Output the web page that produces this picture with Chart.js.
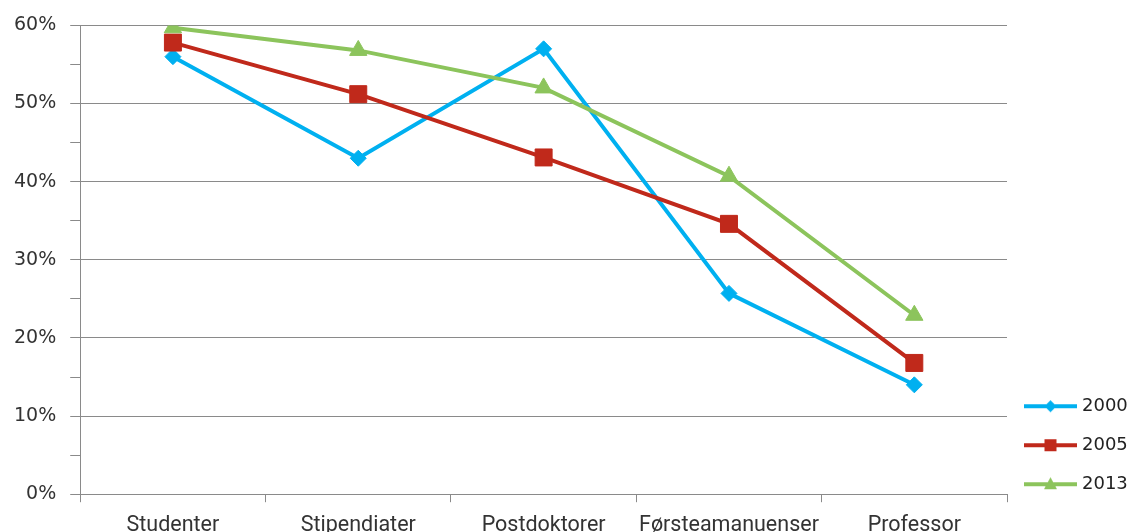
<!DOCTYPE html>
<html><head><meta charset="utf-8">
<script src="https://cdn.jsdelivr.net/npm/chart.js@4/dist/chart.umd.min.js"></script>
<style>html,body{margin:0;padding:0;background:#fff;overflow:hidden;width:1131px;height:532px}
#wrap{position:absolute;left:0;top:0;width:1131px;height:550px}</style></head>
<body><div id="wrap"><canvas id="c" width="1131" height="550"></canvas></div>
<script>
const categories = ['Studenter', 'Stipendiater', 'Postdoktorer', 'Førsteamanuenser', 'Professor'];
const seriesNames = ['2000', '2005', '2013'];
const values2000 = [56, 43, 57, 25.7, 14];
const values2005 = [57.8, 51.2, 43.1, 34.6, 16.8];
const values2013 = [59.7, 56.8, 52, 40.7, 22.9];
const yTickValues = [0, 10, 20, 30, 40, 50, 60];

const colors = ['#00B0F0', '#C0291B', '#8CC45C'];
const markers = ['rectRot', 'rect', 'triangle'];
const radii = [8, 12, 10];
const GRID = '#8a8a8a';

function makeIcon(color, style) {
  const c = document.createElement('canvas');
  c.width = 53; c.height = 20;
  const g = c.getContext('2d');
  g.strokeStyle = color; g.lineWidth = 4;
  g.beginPath(); g.moveTo(0, 10); g.lineTo(53, 10); g.stroke();
  g.fillStyle = color;
  const cx = 26.5, cy = 10;
  g.beginPath();
  if (style === 'rectRot') { g.moveTo(cx, cy - 6); g.lineTo(cx + 6, cy); g.lineTo(cx, cy + 6); g.lineTo(cx - 6, cy); }
  else if (style === 'rect') { g.rect(cx - 6, cy - 6, 12, 12); }
  else { g.moveTo(cx, cy - 7); g.lineTo(cx + 6.5, cy + 5); g.lineTo(cx - 6.5, cy + 5); }
  g.closePath(); g.fill();
  return c;
}
const icons = colors.map((c, i) => makeIcon(c, markers[i]));

const seriesValues = [values2000, values2005, values2013];
const datasets = seriesNames.map((name, i) => ({
  label: name,
  data: seriesValues[i],
  borderColor: colors[i],
  backgroundColor: colors[i],
  borderWidth: 4,
  pointStyle: markers[i],
  pointRadius: radii[i],
  pointHoverRadius: radii[i],
  pointBackgroundColor: colors[i],
  pointBorderColor: colors[i],
  pointBorderWidth: 1,
  tension: 0,
  order: 2 - i
}));

new Chart(document.getElementById('c'), {
  type: 'line',
  data: { labels: categories, datasets },
  options: {
    responsive: false,
    devicePixelRatio: 1,
    animation: false,
    layout: { padding: { top: 9, left: 0, right: 0, bottom: 0 } },
    plugins: {
      tooltip: { enabled: false },
      legend: {
        position: 'right',
        align: 'start',
        maxWidth: 124,
        title: { display: true, text: '', padding: { top: 366, bottom: 0 }, font: { size: 1 } },
        labels: {
          usePointStyle: true,
          pointStyleWidth: 45,
          padding: 21,
          color: '#222',
          font: { family: 'DejaVu Sans', size: 18 },
          sort: (a, b) => a.datasetIndex - b.datasetIndex,
          generateLabels(chart) {
            const items = Chart.defaults.plugins.legend.labels.generateLabels(chart);
            items.forEach(it => { it.pointStyle = icons[it.datasetIndex]; });
            return items;
          }
        }
      }
    },
    scales: {
      x: {
        offset: true,
        grid: { offset: true, drawOnChartArea: false, tickLength: 8, color: GRID },
        border: { color: GRID },
        ticks: { font: { family: 'Roboto', size: 21.5 }, color: '#333', padding: 11, maxRotation: 0, autoSkip: false }
      },
      y: {
        min: yTickValues[0],
        max: yTickValues[yTickValues.length - 1],
        grid: { color: ctx => (yTickValues.includes(ctx.tick.value) ? GRID : 'rgba(0,0,0,0)'), tickColor: GRID, tickLength: 10 },
        border: { color: GRID },
        ticks: {
          stepSize: 5,
          padding: 14,
          color: '#333',
          font: { family: 'DejaVu Sans', size: 19 },
          callback: v => (yTickValues.includes(v) ? v + '%' : '')
        }
      }
    }
  }
});
</script></body></html>
